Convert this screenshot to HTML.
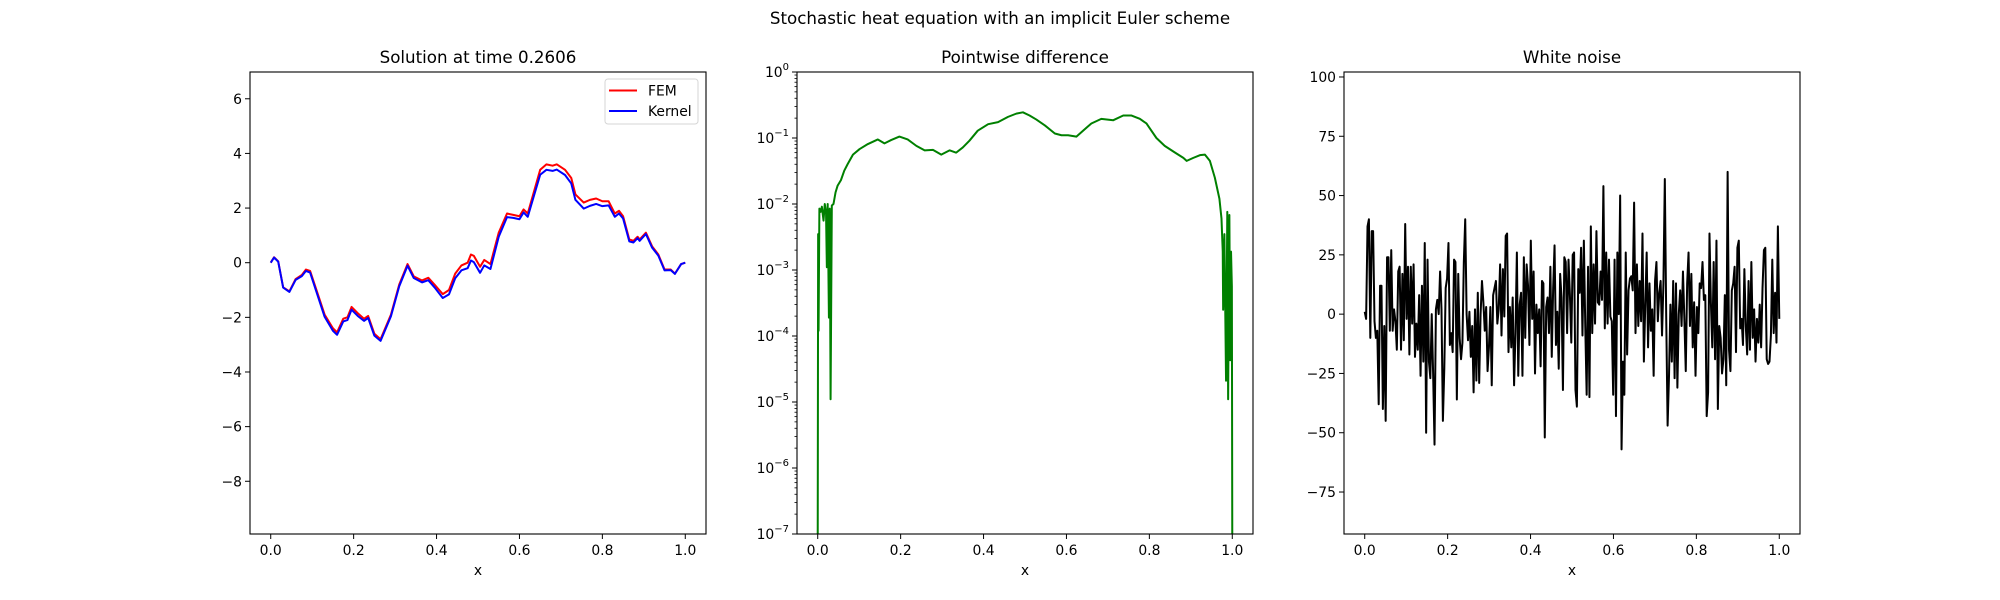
<!DOCTYPE html>
<html><head><meta charset="utf-8"><style>
html,body{margin:0;padding:0;background:#fff;}
svg{display:block;font-family:"DejaVu Sans","Liberation Sans",sans-serif;}
</style></head><body>
<svg id="fig" width="2000" height="600" xmlns="http://www.w3.org/2000/svg">
<rect width="2000" height="600" fill="#fff"/>
<text x="1000" y="24" font-size="16.7" text-anchor="middle">Stochastic heat equation with an implicit Euler scheme</text>
</svg>
<script>
// ---- Panel 1 data: solution ----
const solX = [0,.008,.018,.03,.045,.06,.075,.085,.095,.13,.15,.16,.175,.185,.195,.21,.225,.235,.25,.265,.29,.31,.33,.345,.365,.38,.395,.415,.43,.445,.46,.475,.483,.49,.505,.515,.53,.55,.57,.585,.6,.61,.62,.635,.65,.665,.68,.69,.71,.725,.735,.755,.77,.785,.8,.815,.83,.84,.85,.865,.875,.885,.89,.905,.92,.935,.95,.965,.975,.99,1];
const femVals = [0,.2,.05,-.9,-1.05,-.6,-.45,-.25,-.3,-1.9,-2.4,-2.55,-2.05,-2.0,-1.62,-1.85,-2.05,-1.95,-2.6,-2.8,-1.9,-.8,-.05,-.5,-.65,-.55,-.8,-1.15,-1.0,-.4,-.1,0,.3,.25,-.15,.1,-.05,1.1,1.8,1.75,1.7,1.95,1.8,2.6,3.4,3.6,3.55,3.6,3.4,3.1,2.5,2.2,2.3,2.35,2.25,2.25,1.8,1.9,1.7,.85,.8,.95,.85,1.1,.6,.3,-.25,-.25,-.4,-.05,0];
const kernelVals = [0,.19,.04,-.91,-1.07,-.63,-.49,-.3,-.36,-1.98,-2.49,-2.64,-2.15,-2.1,-1.72,-1.95,-2.13,-2.02,-2.67,-2.86,-1.96,-.86,-.11,-.56,-.72,-.64,-.9,-1.29,-1.16,-.57,-.28,-.2,.08,.02,-.37,-.1,-.23,.95,1.67,1.64,1.59,1.84,1.68,2.45,3.22,3.4,3.36,3.41,3.21,2.9,2.3,1.98,2.08,2.15,2.07,2.1,1.68,1.8,1.62,.78,.74,.9,.8,1.05,.55,.26,-.28,-.27,-.41,-.05,0];
const solYTicks = [-8,-6,-4,-2,0,2,4,6];
const xTicks = [0,0.2,0.4,0.6,0.8,1.0];
const xTickLabels = ["0.0","0.2","0.4","0.6","0.8","1.0"];
// ---- Panel 2 data: pointwise difference ----
const diffX = [0,.001,.002,.004,.007,.010,.014,.017,.020,.022,.024,.027,.029,.031,.034,.038,.043,.048,.056,.064,.072,.085,.101,.121,.145,.161,.177,.197,.217,.238,.258,.278,.298,.318,.334,.350,.366,.386,.411,.435,.459,.479,.495,.511,.527,.548,.572,.588,.604,.624,.640,.660,.684,.713,.737,.757,.777,.793,.817,.837,.862,.882,.890,.906,.922,.934,.946,.958,.969,.974,.977,.978,.981,.985,.988,.990,.993,.995,.997,.999,1.0];
const diffVals = [1e-7,3.5e-3,1.2e-4,8.5e-3,7.6e-3,9.1e-3,5.6e-3,1.0e-2,7.6e-3,1.1e-3,1.0e-2,1.9e-4,8.5e-3,1.1e-5,9.5e-3,1.0e-2,1.5e-2,1.9e-2,2.3e-2,3.2e-2,4.0e-2,5.6e-2,6.8e-2,8.1e-2,9.5e-2,8.3e-2,9.3e-2,.105,.095,.076,.065,.066,.056,.065,.060,.072,.091,.129,.162,.174,.209,.234,.245,.219,.191,.155,.117,.110,.110,.105,.129,.166,.195,.186,.219,.219,.195,.166,.100,.076,.060,.050,.045,.050,.055,.056,.045,.025,.012,6.0e-3,1.9e-3,2.5e-4,3.5e-3,2.1e-5,7.6e-3,1.1e-5,6.8e-3,4.3e-5,1.9e-3,5.6e-4,1e-7];
const diffDecades = [-7,-6,-5,-4,-3,-2,-1,0];
// ---- Panel 3 data: white noise (evenly spaced samples on [0,1]) ----
const noiseVals = [1,-2,37,40,-10,35,35,-3,-10,-7,-38,12,12,-40,-5,-45,24,24,-7,27,-7,2,-3,-15,18,20,-15,17,-11,38,-2,20,-17,20,-4,21,-18,-4,-15,8,-26,12,-20,30,-50,23,-20,-27,0,-25,-55,2,6,0,18,2,-45,-23,11,15,30,-13,-8,-16,23,22,-36,17,-10,-19,-12,22,40,0,-11,1,-18,-5,-33,2,-28,9,-29,0,14,5,-7,3,-24,-14,3,-30,8,11,14,-4,2,21,-9,19,-1,33,34,-16,3,-14,7,-30,-8,26,-26,4,9,-26,24,-10,21,12,-13,31,-2,18,-25,4,-8,2,-22,14,13,-52,3,7,-8,20,-18,11,29,-13,1,-23,17,7,-32,24,22,-8,23,8,-12,25,26,-32,-39,19,9,28,-9,31,-5,-34,20,-35,37,-8,21,-4,35,5,4,18,6,54,-6,26,-4,23,-1,-3,-34,23,-43,26,0,50,-57,-20,-34,26,-17,10,15,16,10,47,-8,21,-5,14,-3,34,-20,4,26,-14,13,-7,2,-26,14,22,-3,9,14,-9,13,57,-1,-47,-26,4,-20,14,-27,13,-31,0,10,-5,18,-2,-24,13,26,-5,17,-14,5,-26,3,-8,13,11,22,6,8,-43,-33,34,5,-14,22,-19,31,-40,-5,-10,-25,-19,8,-30,60,-15,-24,10,13,20,-16,28,31,-6,-2,-13,19,-5,-17,14,-15,22,-10,2,-20,-2,-12,4,-14,11,27,28,-19,-21,-20,-9,23,-8,9,-12,37,-2];
const noiseYTicks = [-75,-50,-25,0,25,50,75,100];

const NS = "http://www.w3.org/2000/svg";
const svg = document.getElementById('fig');
function mk(tag, attrs, parent){ const e=document.createElementNS(NS,tag); for(const k in attrs) e.setAttribute(k,attrs[k]); (parent||svg).appendChild(e); return e; }

const TOP=72, BOT=534, W=456;
const lefts=[250,797,1344];
function xScale(L){ return v => L + (v+0.05)/1.1*W; }
function linY(lo,hi){ return v => BOT - (v-lo)/(hi-lo)*(BOT-TOP); }
function logY(lo,hi){ return v => BOT - (Math.log10(v)-lo)/(hi-lo)*(BOT-TOP); }

function frame(i,title,name){
  const L=lefts[i];
  const g=mk('g',{});
  
  
  const t=mk('text',{x:L+W/2,y:TOP-9,'font-size':16.7,'text-anchor':'middle'},g);
  t.textContent=title;
  
  
  const xl=mk('text',{x:L+W/2,y:575,'font-size':13.9,'text-anchor':'middle'},g);
  xl.textContent='x';
  
  
  const xs=xScale(L);
  xTicks.forEach((v,k)=>{
    const px=xs(v);
    mk('line',{x1:px,x2:px,y1:BOT,y2:BOT+5,stroke:'#000','stroke-width':1},g);
    const tl=mk('text',{x:px,y:BOT+21,'font-size':13.9,'text-anchor':'middle'},g);
    tl.textContent=xTickLabels[k];
    
    
  });
  return {g,L,xs};
}
function border(g,L){ mk('rect',{x:L,y:TOP,width:W,height:BOT-TOP,fill:'none',stroke:'#000','stroke-width':1.1},g); }
function yTicksLin(g,L,ys,ticks,fmt){
  ticks.forEach(v=>{
    const py=ys(v);
    mk('line',{x1:L-5,x2:L,y1:py,y2:py,stroke:'#000','stroke-width':1},g);
    const tl=mk('text',{x:L-8,y:py+5,'font-size':13.9,'text-anchor':'end'},g);
    tl.textContent=fmt(v);
    
    
  });
}
const minus = v => (v<0?'\u2212':'')+Math.abs(v);
function poly(g,xsArr,ysArr,xs,ys,color,w,name){
  const pts=xsArr.map((x,k)=>xs(x).toFixed(2)+','+ys(ysArr[k]).toFixed(2)).join(' ');
  const p=mk('polyline',{points:pts,fill:'none',stroke:color,'stroke-width':w,'stroke-linejoin':'round'},g);
  
  
  return p;
}

// Panel 1
{
  const {g,L,xs}=frame(0,'Solution at time 0.2606','solution-panel');
  const ys=linY(-9.93,6.98);
  yTicksLin(g,L,ys,solYTicks,minus);
  poly(g,solX,femVals,xs,ys,'#ff0000',2,'fem-line');
  poly(g,solX,kernelVals,xs,ys,'#0000ff',2,'kernel-line');
  border(g,L);
  const lg=mk('g',{},g);
  
  
  mk('rect',{x:605,y:79,width:93,height:45,rx:3,fill:'#fff',stroke:'#d6d6d6','stroke-width':1},lg);
  mk('line',{x1:609,x2:637,y1:90.5,y2:90.5,stroke:'#ff0000','stroke-width':2},lg);
  mk('line',{x1:609,x2:637,y1:111,y2:111,stroke:'#0000ff','stroke-width':2},lg);
  const t1=mk('text',{x:648,y:95.5,'font-size':13.9},lg); t1.textContent='FEM';
  
  
  const t2=mk('text',{x:648,y:116,'font-size':13.9},lg); t2.textContent='Kernel';
  
  
}
// Panel 2
{
  const {g,L,xs}=frame(1,'Pointwise difference','difference-panel');
  const ys=logY(-7,0);
  diffDecades.forEach(d=>{
    const py=ys(Math.pow(10,d));
    mk('line',{x1:L-5,x2:L,y1:py,y2:py,stroke:'#000','stroke-width':1},g);
    const tl=mk('text',{x:L-8,y:py+5,'font-size':13.9,'text-anchor':'end'},g);
    
    
    const a=document.createElementNS(NS,'tspan'); a.textContent='10'; tl.appendChild(a);
    const b=document.createElementNS(NS,'tspan'); b.setAttribute('dy','-7'); b.setAttribute('font-size','10'); b.textContent=(d<0?'\u2212':'')+Math.abs(d); tl.appendChild(b);
    if(d<0){ for(let m=2;m<=9;m++){ const pm=ys(m*Math.pow(10,d)); mk('line',{x1:L-2.5,x2:L,y1:pm,y2:pm,stroke:'#000','stroke-width':0.8},g);} }
  });
  poly(g,diffX,diffVals,xs,ys,'#008000',2,'difference-line');
  border(g,L);
}
// Panel 3
{
  const {g,L,xs}=frame(2,'White noise','noise-panel');
  const ys=linY(-92.7,102.1);
  yTicksLin(g,L,ys,noiseYTicks,minus);
  const nx=noiseVals.map((v,k)=>k/(noiseVals.length-1));
  poly(g,nx,noiseVals,xs,ys,'#000000',2,'noise-line');
  border(g,L);
}
</script>
</body></html>
